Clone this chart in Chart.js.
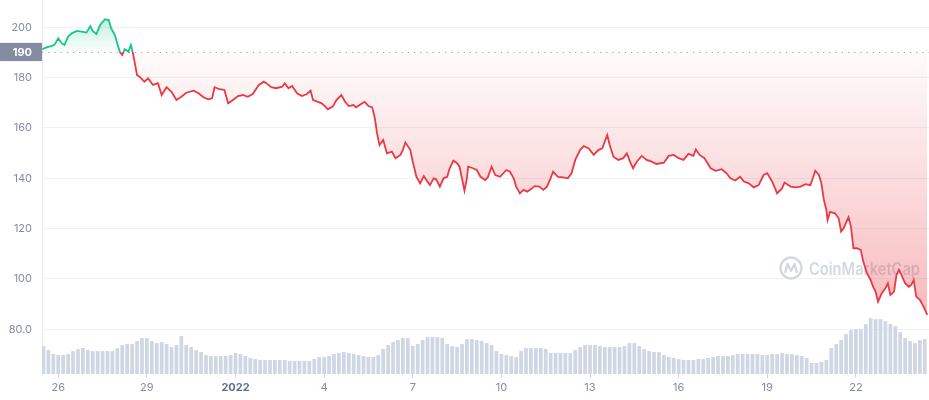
<!DOCTYPE html>
<html>
<head>
<meta charset="utf-8">
<script src="https://cdn.jsdelivr.net/npm/chart.js@4.4.1/dist/chart.umd.min.js"></script>
<style>
  html, body { margin: 0; padding: 0; background: #fff; }
  #wrap { width: 929px; height: 400px; position: relative; }
</style>
</head>
<body>
<div id="wrap"><canvas id="price_chart"></canvas></div>
<script>
// hours counted from 26 Dec 2021 00:00
var priceHours = [-13,-9,-5,-3,0,3,5,8,11,15,19,23,26,28,31,34,38,41,43,46,48,50,52,54,57,59,61,64,66,70,
    73,77,81,84,88,92,96,100,104,110,114,118,122,125,127,131,135,138,142,146,150,154,158,163,167,169,173,177,182,184,
    187,190,194,198,202,205,207,211,214,217,219,223,226,230,233,236,240,242,247,249,252,255,257,259,261,264,267,271,274,278,
    280,282,286,288,291,294,297,299,302,305,307,310,313,316,318,321,324,326,328,330,332,333,337,340,343,347,349,352,355,359,
    364,367,370,372,375,378,381,385,387,391,394,397,400,402,406,410,414,417,420,424,427,431,435,439,442,446,448,451,455,459,
    462,465,467,470,474,478,482,486,492,496,500,504,508,512,516,518,521,525,530,534,539,543,546,550,554,557,561,565,569,573,
    576,580,584,588,590,595,599,603,607,611,613,615,618,620,622,624,625,627,631,634,636,638,642,644,646,649,652,654,657,660,
    662,664,666,669,672,674,676,679,681,683,685,688,691,693,695,697,700,703,706];
var prices = [191.3,192.1,192.6,193.1,195.6,193.6,193.0,196.3,197.6,198.6,198.3,197.9,200.5,198.6,197.3,200.9,203.2,202.9,199.6,196.9,
    193.6,190.3,189.0,191.3,190.3,193.0,189.0,181.0,180.4,178.4,179.7,177.1,177.8,173.1,176.2,174.4,171.1,172.4,174.0,174.8,
    173.8,172.2,171.4,171.8,176.2,175.4,175.1,169.8,171.1,172.7,173.1,172.4,173.5,177.1,178.4,177.8,176.2,175.8,176.4,177.8,
    175.8,176.7,173.8,172.7,173.5,174.8,171.1,170.4,169.8,168.5,167.4,168.5,171.1,173.1,170.4,168.7,169.1,168.2,169.8,170.4,
    168.7,168.2,164.5,157.9,153.2,155.2,149.9,150.6,148.0,149.3,151.3,154.2,151.3,146.6,140.6,138.0,140.9,139.3,137.3,140.0,
    139.6,136.7,140.0,140.6,144.0,147.0,146.0,144.6,140.0,135.1,140.0,144.6,144.0,143.3,140.6,139.3,140.4,144.6,141.3,140.6,
    143.3,142.6,140.0,136.7,134.0,135.4,134.7,136.0,136.9,136.7,135.4,136.7,140.0,142.6,140.6,140.4,140.0,142.0,147.3,151.3,
    152.8,151.9,149.3,151.3,151.9,157.2,153.2,148.6,147.3,148.0,149.9,146.0,144.0,146.6,148.9,147.3,146.6,145.7,146.2,148.9,
    149.3,148.0,147.3,149.7,148.9,151.5,149.3,148.0,144.0,143.0,143.6,142.0,140.0,139.1,140.6,138.7,138.0,136.4,137.3,141.3,
    142.0,138.7,134.0,136.0,138.3,136.7,136.4,136.7,137.7,137.3,140.0,143.0,141.3,138.0,131.4,127.4,123.4,126.7,126.1,124.1,
    118.8,120.1,124.5,120.8,112.2,112.2,111.5,106.9,102.3,99.6,96.9,95.0,91.0,94.3,96.3,98.3,93.6,95.0,101.6,103.6,
    101.6,98.3,96.9,97.6,99.6,93.0,91.7,89.0,85.7];

// volume, $M, one bar every 4 hours
var volumeStartHour = -12;
var volumeStepHours = 4;
var volumes = [2240,1920,1600,1520,1520,1600,1840,2000,2080,1920,
    1840,1840,1840,1840,1840,2080,2320,2400,2400,2640,
    2880,2880,2640,2480,2560,2400,2160,2320,3040,2320,
    2160,1920,1760,1520,1440,1440,1440,1440,1520,1680,
    1600,1440,1280,1200,1120,1120,1120,1120,1120,1120,
    1040,1040,1040,1040,1040,1200,1360,1360,1440,1600,
    1680,1760,1680,1600,1520,1440,1360,1360,1520,2000,
    2320,2560,2720,2880,2880,2240,2400,2720,2960,2960,
    2960,2880,2400,2240,2160,2400,2800,2800,2720,2640,
    2480,2320,1840,1600,1520,1440,1360,1840,2080,2080,
    2080,2080,2000,1680,1680,1680,1680,1680,1920,2160,
    2320,2320,2320,2240,2160,2160,2160,2160,2240,2480,
    2480,2240,2000,1840,1760,1760,1520,1360,1280,1200,
    1120,1120,1120,1200,1200,1280,1360,1440,1440,1440,
    1520,1600,1600,1600,1600,1600,1520,1520,1600,1600,
    1680,1600,1600,1520,1440,1280,880,880,960,1120,
    2080,2400,2720,3200,3520,3600,3600,4000,4480,4400,
    4400,4240,4000,3840,3360,2880,2640,2480,2720,2800];

var baseline = 190;
var yTickValues = [80, 100, 120, 140, 160, 180, 200];
var yTickLabels = ['80.0', '100', '120', '140', '160', '180', '200'];
var xTickHours = [0, 72, 144, 216, 288, 360, 432, 504, 576, 648];
var xTickLabels = ['26', '29', '2022', '4', '7', '10', '13', '16', '19', '22'];

var xMin = -13.2, xMax = 707.4;
var yMin = 62.24, yMax = 210.85;
var volMax = 30000;

var green = '#16c784';
var red = '#ea3943';
var labelGrey = '#858ca2';

Chart.defaults.font.family = 'Inter, "Noto Sans", sans-serif';
Chart.defaults.font.size = 11;

function splitColor(ctx) {
    var chart = ctx.chart, area = chart.chartArea;
    if (!area) return red;
    var y = chart.scales.y.getPixelForValue(baseline);
    var stop = (y - area.top) / (area.bottom - area.top);
    var g = chart.ctx.createLinearGradient(0, area.top, 0, area.bottom);
    g.addColorStop(0, green);
    g.addColorStop(stop, green);
    g.addColorStop(stop, red);
    g.addColorStop(1, red);
    return g;
}

function splitFill(ctx) {
    var chart = ctx.chart, area = chart.chartArea;
    if (!area) return false;
    var y = chart.scales.y.getPixelForValue(baseline);
    var top = chart.scales.y.getPixelForValue(Math.max.apply(null, prices));
    var up = chart.ctx.createLinearGradient(0, top, 0, y);
    up.addColorStop(0, 'rgba(22,199,132,0.26)');
    up.addColorStop(1, 'rgba(22,199,132,0.02)');
    var down = chart.ctx.createLinearGradient(0, y, 0, area.bottom);
    down.addColorStop(0, 'rgba(234,57,67,0.02)');
    down.addColorStop(1, 'rgba(234,57,67,0.42)');
    return {value: baseline, above: up, below: down};
}

var watermark = {
    id: 'watermark',
    beforeDatasetsDraw: function(chart) {
        var c = chart.ctx;
        c.save();
        c.strokeStyle = '#d3d9e3';
        c.lineWidth = 2.4;
        c.lineJoin = 'round';
        c.beginPath();
        c.arc(791, 268, 10.5, 0, Math.PI * 2);
        c.stroke();
        c.beginPath();
        c.moveTo(785, 273);
        c.lineTo(787.5, 264);
        c.lineTo(791, 271);
        c.lineTo(794.5, 264);
        c.lineTo(797, 273);
        c.stroke();
        c.fillStyle = '#d3d9e3';
        c.font = '600 17px Inter, sans-serif';
        c.textBaseline = 'alphabetic';
        c.fillText('CoinMarketCap', 809, 275, 111);
        c.restore();
    }
};

var priceData = priceHours.map(function(h, i) { return {x: h, y: prices[i]}; });
var volumeData = volumes.map(function(v, i) { return {x: volumeStartHour + i * volumeStepHours, y: v}; });

new Chart(document.getElementById('price_chart'), {
    type: 'line',
    data: {
        datasets: [
            {
                label: 'Price',
                data: priceData,
                borderColor: splitColor,
                borderWidth: 1.8,
                pointRadius: 0,
                tension: 0,
                fill: splitFill,
                yAxisID: 'y',
                order: 0
            },
            {
                label: 'Baseline',
                data: [{x: xMin, y: baseline}, {x: xMax, y: baseline}],
                borderColor: '#9aa1b3',
                borderWidth: 1,
                borderDash: [1.2, 5],
                pointRadius: 0,
                fill: false,
                yAxisID: 'y',
                order: 1
            },
            {
                type: 'bar',
                label: 'Volume',
                data: volumeData,
                backgroundColor: '#cfd6e4',
                barPercentage: 0.76,
                categoryPercentage: 1,
                yAxisID: 'yv',
                order: 2
            }
        ]
    },
    options: {
        responsive: true,
        maintainAspectRatio: false,
        animation: false,
        layout: {padding: 0},
        plugins: {legend: {display: false}, tooltip: {enabled: false}},
        scales: {
            x: {
                type: 'linear',
                min: xMin,
                max: xMax,
                offset: false,
                afterBuildTicks: function(s) { s.ticks = xTickHours.map(function(v) { return {value: v}; }); },
                afterFit: function(s) { s.height = 26; s.paddingLeft = 0; s.paddingRight = 0; },
                grid: {offset: false, drawOnChartArea: false, drawTicks: true, tickLength: 4, color: '#cfd6e4'},
                border: {display: false},
                ticks: {
                    autoSkip: false,
                    maxRotation: 0,
                    padding: 3,
                    color: function(ctx) { return ctx.index === 2 ? '#616e85' : labelGrey; },
                    font: function(ctx) { return ctx.index === 2 ? {size: 11, weight: 'bold'} : {size: 11}; },
                    callback: function(v, i) { return xTickLabels[i]; }
                }
            },
            y: {
                position: 'left',
                min: yMin,
                max: yMax,
                afterBuildTicks: function(s) {
                    s.ticks = yTickValues.concat([baseline]).sort(function(a, b) { return a - b; })
                        .map(function(v) { return {value: v}; });
                },
                afterFit: function(s) { s.width = 42; s.paddingTop = 0; s.paddingBottom = 0; },
                grid: {
                    drawTicks: false,
                    color: function(ctx) { return ctx.tick && ctx.tick.value === baseline ? 'rgba(0,0,0,0)' : '#eff2f5'; }
                },
                border: {display: true, color: '#e6e9ef'},
                ticks: {
                    padding: 10,
                    autoSkip: false,
                    color: function(ctx) { return ctx.tick && ctx.tick.value === baseline ? '#ffffff' : labelGrey; },
                    font: function(ctx) { return ctx.tick && ctx.tick.value === baseline ? {size: 11, weight: 'bold'} : {size: 11}; },
                    showLabelBackdrop: function(ctx) { return !!(ctx.tick && ctx.tick.value === baseline); },
                    backdropColor: '#858ca2',
                    backdropPadding: {top: 3, bottom: 2, left: 14, right: 10},
                    callback: function(v) {
                        return v === baseline ? String(baseline) : yTickLabels[yTickValues.indexOf(v)];
                    }
                }
            },
            yv: {
                display: false,
                min: 0,
                max: volMax
            }
        }
    },
    plugins: [watermark]
});
</script>
</body>
</html>
